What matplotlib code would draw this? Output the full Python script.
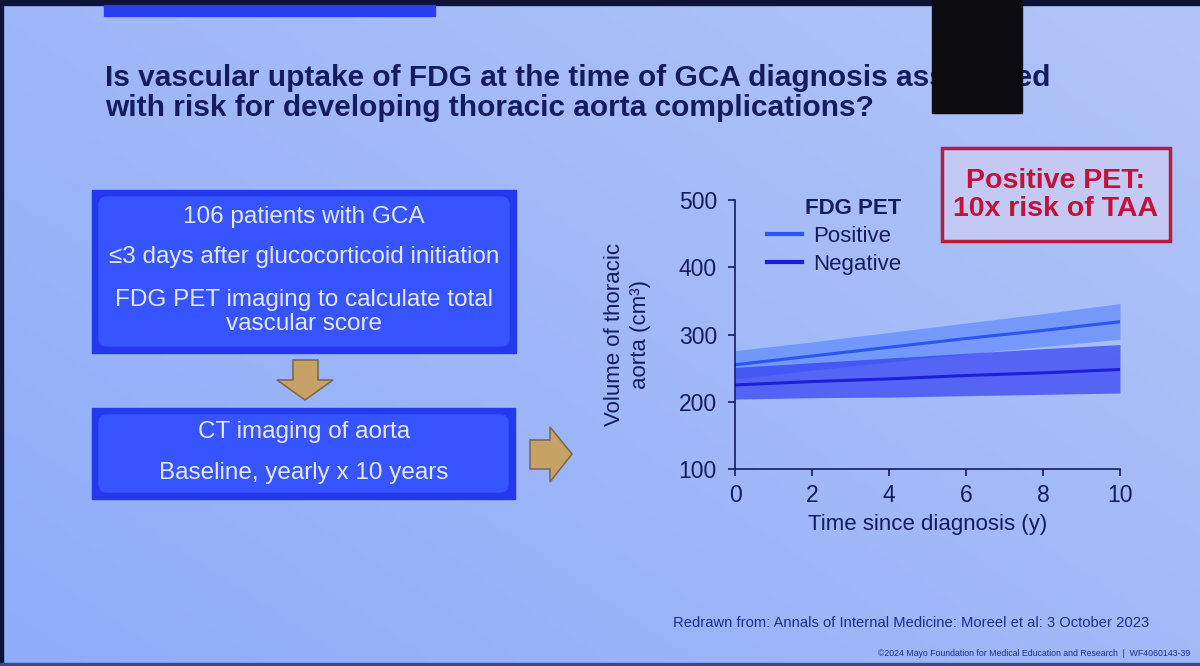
import numpy as np
import matplotlib
matplotlib.use("Agg")
import matplotlib.pyplot as plt
from matplotlib.patches import Rectangle, FancyBboxPatch, Polygon

plt.rcParams['font.family'] = ['Liberation Sans', 'DejaVu Sans']

# chart data
years = [0, 2, 4, 6, 8, 10]
pos_mean = [255, 268, 281, 294, 306, 319]
pos_upper = [276, 289, 303, 317, 331, 346]
pos_lower = [234, 247, 259, 271, 282, 293]
neg_mean = [225, 230, 234, 239, 243, 248]
neg_upper = [251, 258, 265, 272, 279, 285]
neg_lower = [204, 206, 207, 209, 211, 213]

x_ticks = [0, 2, 4, 6, 8, 10]
y_ticks = [100, 200, 300, 400, 500]

title = ("Is vascular uptake of FDG at the time of GCA diagnosis associated\n"
         "with risk for developing thoracic aorta complications?")
box1_lines = ["106 patients with GCA",
              "\u22643 days after glucocorticoid initiation",
              "FDG PET imaging to calculate total\nvascular score"]
box2_lines = ["CT imaging of aorta", "Baseline, yearly x 10 years"]
callout = "Positive PET:\n10x risk of TAA"
source = "Redrawn from: Annals of Internal Medicine: Moreel et al: 3 October 2023"
copyright_txt = "\u00a92024 Mayo Foundation for Medical Education and Research  |  WF4060143-39"

navy = "#161b5e"
fig = plt.figure(figsize=(12, 6.66), dpi=100)

# slide background in pixel coordinates
bg = fig.add_axes([0, 0, 1, 1])
bg.set_xlim(0, 1200)
bg.set_ylim(666, 0)
bg.axis("off")
gx = np.linspace(0, 1, 200)
gy = np.linspace(0, 1, 120)
GX, GY = np.meshgrid(gx, gy)
t = np.clip(0.55 * GX + 0.45 * (1 - GY), 0, 1)
c0 = np.array([0x8e, 0xac, 0xfa]) / 255
c1 = np.array([0xb2, 0xc5, 0xf7]) / 255
img = c0[None, None, :] * (1 - t[..., None]) + c1[None, None, :] * t[..., None]
bg.imshow(img, extent=[0, 1200, 666, 0], aspect="auto", zorder=0)

# screen edges / top elements
bg.add_patch(Rectangle((0, 0), 1200, 5, color="#0d1238", zorder=1))
bg.add_patch(Rectangle((0, 0), 3, 666, color="#0d1238", zorder=1))
bg.add_patch(Rectangle((0, 663), 1200, 3, color="#3a4a8a", zorder=1))
bg.add_patch(Rectangle((104, 5), 331, 11, color="#2a3ef0", zorder=1))

bg.text(105, 93, title, fontsize=21.5, fontweight="bold", color=navy,
        ha="left", va="center", linespacing=1.12, zorder=2)
bg.add_patch(Rectangle((932, 0), 90, 113, color="#0b0b10", zorder=3))

# flow boxes
def blue_box(x0, y0, w, h):
    bg.add_patch(Rectangle((x0, y0), w, h, color="#2438ee", zorder=2))
    bg.add_patch(FancyBboxPatch((x0 + 7, y0 + 7), w - 14, h - 14,
                                boxstyle="round,pad=0,rounding_size=8",
                                color="#3654ff", zorder=2))

blue_box(92, 190, 424, 163)
blue_box(92, 408, 423, 91)
txt_col = "#e4e8ff"
bg.text(304, 217, box1_lines[0], fontsize=17.5, color=txt_col, ha="center", va="center", zorder=3)
bg.text(304, 257, box1_lines[1], fontsize=17.5, color=txt_col, ha="center", va="center", zorder=3)
bg.text(304, 312, box1_lines[2], fontsize=17.5, color=txt_col, ha="center", va="center",
        linespacing=1.1, zorder=3)
bg.text(304, 432, box2_lines[0], fontsize=17.5, color=txt_col, ha="center", va="center", zorder=3)
bg.text(304, 473, box2_lines[1], fontsize=17.5, color=txt_col, ha="center", va="center", zorder=3)

# arrows
bg.add_patch(Polygon([(293, 360), (318, 360), (318, 380), (333, 380), (305, 400),
                      (277, 380), (293, 380)], closed=True,
                     facecolor="#c6a266", edgecolor="#7d6a4c", lw=1.2, zorder=2))
bg.add_patch(Polygon([(530, 440), (550, 440), (550, 427), (572, 454), (550, 482),
                      (550, 469), (530, 469)], closed=True,
                     facecolor="#c6a266", edgecolor="#7d6a4c", lw=1.2, zorder=2))

# callout box
bg.add_patch(Rectangle((942, 148), 228, 93, facecolor="#c3c9f3", edgecolor="#b81c3c",
                       lw=2.5, zorder=2))
bg.text(1056, 195, callout, fontsize=20.5, fontweight="bold", color="#c0123a",
        ha="center", va="center", linespacing=1.05, zorder=3)

bg.text(1149, 623, source, fontsize=10.6, color="#1b2d8f", ha="right", va="center", zorder=2)
bg.text(1190, 654, copyright_txt, fontsize=6.3, color="#1b2d8f", ha="right", va="center", zorder=2)

# the chart
ax = fig.add_axes([735 / 1200, 1 - 469 / 666, 385 / 1200, 269 / 666])
ax.patch.set_alpha(0)
ax.fill_between(years, pos_lower, pos_upper, color="#4c7cff", alpha=0.55, lw=0)
ax.fill_between(years, neg_lower, neg_upper, color="#2a36f2", alpha=0.65, lw=0)
ax.plot(years, pos_mean, color="#2a55f2", lw=2.2, label="Positive")
ax.plot(years, neg_mean, color="#1d1fd6", lw=2.2, label="Negative")

ax.set_xlim(0, 10)
ax.set_ylim(100, 500)
ax.set_xticks(x_ticks)
ax.set_yticks(y_ticks)
for s in ["top", "right"]:
    ax.spines[s].set_visible(False)
for s in ["left", "bottom"]:
    ax.spines[s].set_color(navy)
    ax.spines[s].set_linewidth(1.2)
ax.tick_params(colors=navy, labelsize=16.5, length=5, width=1.2, pad=8)
ax.tick_params(axis="x", pad=6)
ax.set_xlabel("Time since diagnosis (y)", fontsize=16, color=navy, labelpad=5)
ax.set_ylabel("Volume of thoracic\naorta (cm\u00b3)", fontsize=16, color=navy,
              labelpad=20, linespacing=1.3)

leg = ax.legend(title="FDG PET", loc="upper left", bbox_to_anchor=(0.03, 1.08),
                frameon=False, fontsize=16, handlelength=1.6, labelspacing=0.3,
                handletextpad=0.5, alignment="right")
leg.get_title().set_fontweight("bold")
leg.get_title().set_fontsize(16)
leg.get_title().set_color(navy)
for tx in leg.get_texts():
    tx.set_color(navy)
for ln in leg.get_lines():
    ln.set_linewidth(3)

fig.savefig("out.png", dpi=100)
